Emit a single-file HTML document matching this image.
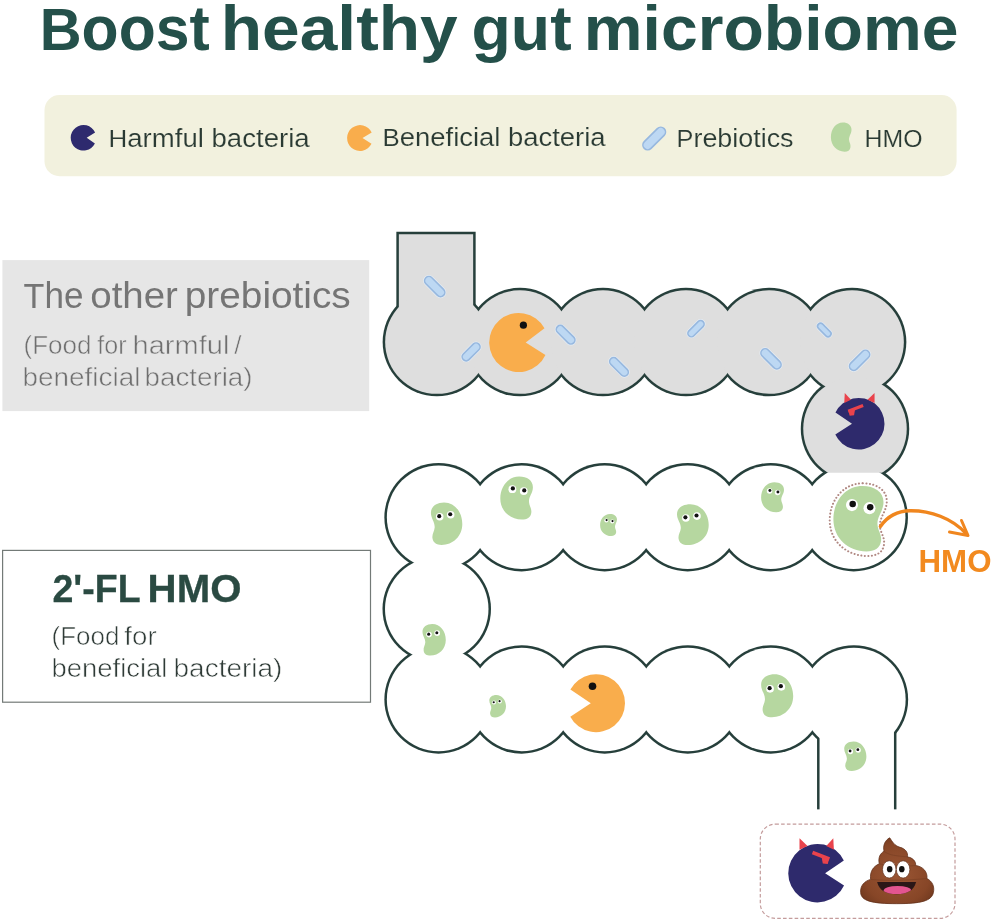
<!DOCTYPE html>
<html><head><meta charset="utf-8">
<style>
html,body{margin:0;padding:0;background:#fff;}
body{width:994px;height:923px;overflow:hidden;}
svg{display:block;will-change:transform;}
text{font-family:"Liberation Sans",sans-serif;}
</style></head><body>
<svg width="994" height="923" viewBox="0 0 994 923">
<rect x="0" y="0" width="994" height="923" fill="#fff"/>
<rect x="44.5" y="95" width="912.1" height="81.2" rx="15" fill="#f2f1de"/>
<rect x="2.4" y="260.1" width="366.8" height="151" fill="#e6e6e6"/>
<rect x="2.6" y="550.4" width="367.9" height="151.8" fill="#fff" stroke="#737a77" stroke-width="1.2"/>
<text x="39.77" y="49.7" font-size="62.6" font-weight="bold" fill="#24504a" textLength="169.83" lengthAdjust="spacingAndGlyphs"><tspan font-size="59.8">B</tspan><tspan font-size="62.6">oost</tspan></text>
<text x="220.80" y="49.7" font-size="62.6" font-weight="bold" fill="#24504a" textLength="236.85" lengthAdjust="spacingAndGlyphs">healthy</text>
<text x="471.56" y="49.7" font-size="62.6" font-weight="bold" fill="#24504a" textLength="100.09" lengthAdjust="spacingAndGlyphs">gut</text>
<text x="583.82" y="49.7" font-size="62.6" font-weight="bold" fill="#24504a" textLength="374.65" lengthAdjust="spacingAndGlyphs">microbiome</text>
<text x="108.50" y="147.0" font-size="24" fill="#2a3a33" stroke="#f2f1de" stroke-width="0.15" textLength="201.12" lengthAdjust="spacingAndGlyphs"><tspan font-size="24">H</tspan><tspan font-size="25.5">armful bacteria</tspan></text>
<text x="382.53" y="146.4" font-size="24" fill="#2a3a33" stroke="#f2f1de" stroke-width="0.15" textLength="223.10" lengthAdjust="spacingAndGlyphs"><tspan font-size="24">B</tspan><tspan font-size="25.5">eneficial bacteria</tspan></text>
<text x="676.56" y="147.0" font-size="24" fill="#2a3a33" stroke="#f2f1de" stroke-width="0.15" textLength="117.01" lengthAdjust="spacingAndGlyphs"><tspan font-size="24">P</tspan><tspan font-size="25.5">rebiotics</tspan></text>
<text x="864.56" y="147.0" font-size="24" fill="#2a3a33" stroke="#f2f1de" stroke-width="0.15" textLength="57.99" lengthAdjust="spacingAndGlyphs">HMO</text>
<text x="23.61" y="307.6" font-size="36.5" fill="#757575" textLength="59.89" lengthAdjust="spacingAndGlyphs"><tspan font-size="35.5">T</tspan><tspan font-size="36.5">he</tspan></text>
<text x="90.29" y="307.6" font-size="36.5" fill="#757575" textLength="87.57" lengthAdjust="spacingAndGlyphs">other</text>
<text x="184.81" y="307.6" font-size="36.5" fill="#757575" textLength="165.95" lengthAdjust="spacingAndGlyphs">prebiotics</text>
<text x="23.48" y="354.3" font-size="25" fill="#6f6f6f" stroke="#e6e6e6" stroke-width="0.5" textLength="68.02" lengthAdjust="spacingAndGlyphs">(Food</text>
<text x="97.37" y="354.3" font-size="25" fill="#6f6f6f" stroke="#e6e6e6" stroke-width="0.5" textLength="29.25" lengthAdjust="spacingAndGlyphs">for</text>
<text x="132.57" y="354.3" font-size="25" fill="#6f6f6f" stroke="#e6e6e6" stroke-width="0.5" textLength="96.84" lengthAdjust="spacingAndGlyphs">harmful</text>
<text x="234.34" y="354.3" font-size="25" fill="#6f6f6f" stroke="#e6e6e6" stroke-width="0.5" textLength="7.25" lengthAdjust="spacingAndGlyphs">/</text>
<text x="22.58" y="385.6" font-size="25" fill="#6f6f6f" stroke="#e6e6e6" stroke-width="0.5" textLength="117.85" lengthAdjust="spacingAndGlyphs">beneficial</text>
<text x="144.57" y="385.6" font-size="25" fill="#6f6f6f" stroke="#e6e6e6" stroke-width="0.5" textLength="107.96" lengthAdjust="spacingAndGlyphs">bacteria)</text>
<text x="52.45" y="602.4" font-size="39.5" font-weight="bold" fill="#2a4a42" stroke="#2a4a42" stroke-width="0.3" textLength="88.19" lengthAdjust="spacingAndGlyphs">2'-FL</text>
<text x="147.60" y="602.4" font-size="39.5" font-weight="bold" fill="#2a4a42" stroke="#2a4a42" stroke-width="0.3" textLength="93.91" lengthAdjust="spacingAndGlyphs">HMO</text>
<text x="51.55" y="645.0" font-size="25" fill="#2f3b37" stroke="#ffffff" stroke-width="0.55" textLength="67.89" lengthAdjust="spacingAndGlyphs">(Food</text>
<text x="124.37" y="645.0" font-size="25" fill="#2f3b37" stroke="#ffffff" stroke-width="0.55" textLength="32.24" lengthAdjust="spacingAndGlyphs">for</text>
<text x="51.55" y="677.0" font-size="25" fill="#2f3b37" stroke="#ffffff" stroke-width="0.55" textLength="115.92" lengthAdjust="spacingAndGlyphs">beneficial</text>
<text x="173.54" y="677.0" font-size="25" fill="#2f3b37" stroke="#ffffff" stroke-width="0.55" textLength="108.90" lengthAdjust="spacingAndGlyphs">bacteria)</text>
<text x="918.53" y="572.0" font-size="31.5" font-weight="bold" fill="#f28a1f" textLength="73.02" lengthAdjust="spacingAndGlyphs">HMO</text>
<rect x="396.35" y="231.75" width="79.30" height="111.60" fill="#263f3b" />
<circle cx="436.90" cy="342.10" r="54.25" fill="#263f3b" />
<circle cx="519.94" cy="342.10" r="54.25" fill="#263f3b" />
<circle cx="602.98" cy="342.10" r="54.25" fill="#263f3b" />
<circle cx="686.02" cy="342.10" r="54.25" fill="#263f3b" />
<circle cx="769.06" cy="342.10" r="54.25" fill="#263f3b" />
<circle cx="852.10" cy="342.10" r="54.25" fill="#263f3b" />
<circle cx="855.00" cy="428.70" r="54.25" fill="#263f3b" />
<circle cx="438.60" cy="517.20" r="54.25" fill="#263f3b" />
<circle cx="521.62" cy="517.20" r="54.25" fill="#263f3b" />
<circle cx="604.64" cy="517.20" r="54.25" fill="#263f3b" />
<circle cx="687.66" cy="517.20" r="54.25" fill="#263f3b" />
<circle cx="770.68" cy="517.20" r="54.25" fill="#263f3b" />
<circle cx="853.70" cy="517.20" r="54.25" fill="#263f3b" />
<circle cx="436.75" cy="609.00" r="54.25" fill="#263f3b" />
<circle cx="438.60" cy="699.40" r="54.25" fill="#263f3b" />
<circle cx="521.66" cy="699.40" r="54.25" fill="#263f3b" />
<circle cx="604.72" cy="699.40" r="54.25" fill="#263f3b" />
<circle cx="687.78" cy="699.40" r="54.25" fill="#263f3b" />
<circle cx="770.84" cy="699.40" r="54.25" fill="#263f3b" />
<circle cx="853.90" cy="699.40" r="54.25" fill="#263f3b" />
<rect x="817.05" y="698.15" width="79.40" height="111.45" fill="#263f3b" />
<circle cx="438.60" cy="517.20" r="51.75" fill="#ffffff" />
<circle cx="521.62" cy="517.20" r="51.75" fill="#ffffff" />
<circle cx="604.64" cy="517.20" r="51.75" fill="#ffffff" />
<circle cx="687.66" cy="517.20" r="51.75" fill="#ffffff" />
<circle cx="770.68" cy="517.20" r="51.75" fill="#ffffff" />
<circle cx="853.70" cy="517.20" r="51.75" fill="#ffffff" />
<circle cx="436.75" cy="609.00" r="51.75" fill="#ffffff" />
<circle cx="438.60" cy="699.40" r="51.75" fill="#ffffff" />
<circle cx="521.66" cy="699.40" r="51.75" fill="#ffffff" />
<circle cx="604.72" cy="699.40" r="51.75" fill="#ffffff" />
<circle cx="687.78" cy="699.40" r="51.75" fill="#ffffff" />
<circle cx="770.84" cy="699.40" r="51.75" fill="#ffffff" />
<circle cx="853.90" cy="699.40" r="51.75" fill="#ffffff" />
<rect x="819.55" y="700.65" width="74.40" height="113.95" fill="#ffffff" />
<clipPath id="gclip"><rect x="0" y="0" width="994" height="472.7"/></clipPath>
<g clip-path="url(#gclip)">
<rect x="398.85" y="234.25" width="74.30" height="106.60" fill="#dedede" />
<circle cx="436.90" cy="342.10" r="51.75" fill="#dedede" />
<circle cx="519.94" cy="342.10" r="51.75" fill="#dedede" />
<circle cx="602.98" cy="342.10" r="51.75" fill="#dedede" />
<circle cx="686.02" cy="342.10" r="51.75" fill="#dedede" />
<circle cx="769.06" cy="342.10" r="51.75" fill="#dedede" />
<circle cx="852.10" cy="342.10" r="51.75" fill="#dedede" />
<circle cx="855.00" cy="428.70" r="51.75" fill="#dedede" />
</g>
<rect x="815.30" y="809.60" width="82.90" height="20.00" fill="#ffffff" />
<path d="M86.70 137.80 L95.10 132.39 A12.80 12.80 0 1 0 94.90 143.61 Z" fill="#2e2a6e"/>
<path d="M362.50 138.00 L371.69 132.55 A12.90 12.90 0 1 0 371.49 143.86 Z" fill="#f9ad4c"/>
<g transform="translate(654.20 138.50) rotate(-45)"><rect x="-14.00" y="-4.75" width="28.00" height="9.50" rx="4.75" fill="#bdd8f3" stroke="#97b8df" stroke-width="1.6"/></g>
<g transform="translate(830.90 122.60) scale(0.2060 0.2238)"><path d="M58 0 C82 0 100 12 100 32 C100 50 87 60 88 77 C89 90 97 96 95 110 C93 124 82 130 66 130 C30 130 0 104 0 66 C0 30 24 0 58 0 Z" fill="#b6d7a0"/></g>
<g transform="translate(434.70 286.60) rotate(45)"><rect x="-14.00" y="-5.75" width="28.00" height="11.50" rx="5.75" fill="#e6edf5" opacity="0.9"/><rect x="-12.50" y="-4.25" width="25.00" height="8.50" rx="4.25" fill="#bdd8f3" stroke="#97b8df" stroke-width="1.6"/></g>
<g transform="translate(471.10 351.90) rotate(-45)"><rect x="-12.50" y="-5.50" width="25.00" height="11.00" rx="5.50" fill="#e6edf5" opacity="0.9"/><rect x="-11.00" y="-4.00" width="22.00" height="8.00" rx="4.00" fill="#bdd8f3" stroke="#97b8df" stroke-width="1.6"/></g>
<g transform="translate(565.60 334.70) rotate(45)"><rect x="-13.00" y="-5.50" width="26.00" height="11.00" rx="5.50" fill="#e6edf5" opacity="0.9"/><rect x="-11.50" y="-4.00" width="23.00" height="8.00" rx="4.00" fill="#bdd8f3" stroke="#97b8df" stroke-width="1.6"/></g>
<g transform="translate(619.00 366.90) rotate(45)"><rect x="-13.00" y="-5.50" width="26.00" height="11.00" rx="5.50" fill="#e6edf5" opacity="0.9"/><rect x="-11.50" y="-4.00" width="23.00" height="8.00" rx="4.00" fill="#bdd8f3" stroke="#97b8df" stroke-width="1.6"/></g>
<g transform="translate(696.00 328.70) rotate(-45)"><rect x="-11.50" y="-5.00" width="23.00" height="10.00" rx="5.00" fill="#e6edf5" opacity="0.9"/><rect x="-10.00" y="-3.50" width="20.00" height="7.00" rx="3.50" fill="#bdd8f3" stroke="#97b8df" stroke-width="1.6"/></g>
<g transform="translate(771.00 358.80) rotate(45)"><rect x="-14.00" y="-5.75" width="28.00" height="11.50" rx="5.75" fill="#e6edf5" opacity="0.9"/><rect x="-12.50" y="-4.25" width="25.00" height="8.50" rx="4.25" fill="#bdd8f3" stroke="#97b8df" stroke-width="1.6"/></g>
<g transform="translate(824.30 330.00) rotate(45)"><rect x="-9.75" y="-4.50" width="19.50" height="9.00" rx="4.50" fill="#e6edf5" opacity="0.9"/><rect x="-8.25" y="-3.00" width="16.50" height="6.00" rx="3.00" fill="#bdd8f3" stroke="#97b8df" stroke-width="1.6"/></g>
<g transform="translate(859.60 360.30) rotate(-45)"><rect x="-14.00" y="-5.75" width="28.00" height="11.50" rx="5.75" fill="#e6edf5" opacity="0.9"/><rect x="-12.50" y="-4.25" width="25.00" height="8.50" rx="4.25" fill="#bdd8f3" stroke="#97b8df" stroke-width="1.6"/></g>
<path d="M525.70 342.50 L544.50 328.20 A29.50 29.50 0 1 0 545.44 354.97 Z" fill="#f9ad4c"/>
<circle cx="523.40" cy="325.20" r="3.60" fill="#111" />
<path d="M590.80 703.20 L570.39 689.59 A29.00 29.00 0 1 1 570.30 716.64 Z" fill="#f9ad4c"/>
<circle cx="592.50" cy="686.20" r="3.80" fill="#111" />
<path d="M851.99 423.70 L835.47 412.47 A25.80 25.80 0 1 1 835.30 434.56 Z" fill="#2e2a6c"/><path d="M874.57 403.06 L874.57 392.92 L867.47 399.71 Z" fill="#e9434c"/><path d="M850.96 399.71 L844.77 392.92 L844.25 403.06 Z" fill="#e9434c"/><path d="M863.11 405.49 L848.20 411.21" stroke="#e9434c" stroke-width="3.10" stroke-linecap="butt"/><path d="M855.09 409.25 L848.38 410.80 L849.67 415.70 L854.06 415.19 Z" fill="#e9434c"/>
<g transform="translate(462.30 502.40) scale(-0.3140 0.3269)"><path d="M58 0 C82 0 100 12 100 32 C100 50 87 60 88 77 C89 90 97 96 95 110 C93 124 82 130 66 130 C30 130 0 104 0 66 C0 30 24 0 58 0 Z" fill="#b6d7a0"/><circle cx="37" cy="38" r="12" fill="#fff" transform="scale(1 0.9605)" transform-origin="37 38"/><circle cx="38.5" cy="36" r="6.5" fill="#111" transform="scale(1 0.9605)" transform-origin="37 38"/><circle cx="72" cy="44" r="12" fill="#fff" transform="scale(1 0.9605)" transform-origin="72 44"/><circle cx="73.5" cy="42" r="6.5" fill="#111" transform="scale(1 0.9605)" transform-origin="72 44"/></g>
<g transform="translate(500.30 476.60) scale(0.3260 0.3300)"><path d="M58 0 C82 0 100 12 100 32 C100 50 87 60 88 77 C89 90 97 96 95 110 C93 124 82 130 66 130 C30 130 0 104 0 66 C0 30 24 0 58 0 Z" fill="#b6d7a0"/><circle cx="37" cy="38" r="12" fill="#fff" transform="scale(1 0.9879)" transform-origin="37 38"/><circle cx="38.5" cy="36" r="6.5" fill="#111" transform="scale(1 0.9879)" transform-origin="37 38"/><circle cx="72" cy="44" r="12" fill="#fff" transform="scale(1 0.9879)" transform-origin="72 44"/><circle cx="73.5" cy="42" r="6.5" fill="#111" transform="scale(1 0.9879)" transform-origin="72 44"/></g>
<g transform="translate(600.10 514.00) scale(0.1690 0.1692)"><path d="M58 0 C82 0 100 12 100 32 C100 50 87 60 88 77 C89 90 97 96 95 110 C93 124 82 130 66 130 C30 130 0 104 0 66 C0 30 24 0 58 0 Z" fill="#b6d7a0"/><circle cx="37" cy="38" r="12" fill="#fff" transform="scale(1 0.9986)" transform-origin="37 38"/><circle cx="38.5" cy="36" r="6.5" fill="#111" transform="scale(1 0.9986)" transform-origin="37 38"/><circle cx="72" cy="44" r="12" fill="#fff" transform="scale(1 0.9986)" transform-origin="72 44"/><circle cx="73.5" cy="42" r="6.5" fill="#111" transform="scale(1 0.9986)" transform-origin="72 44"/></g>
<g transform="translate(708.70 504.20) scale(-0.3170 0.3138)"><path d="M58 0 C82 0 100 12 100 32 C100 50 87 60 88 77 C89 90 97 96 95 110 C93 124 82 130 66 130 C30 130 0 104 0 66 C0 30 24 0 58 0 Z" fill="#b6d7a0"/><circle cx="37" cy="38" r="12" fill="#fff" transform="scale(1 1.0100)" transform-origin="37 38"/><circle cx="38.5" cy="36" r="6.5" fill="#111" transform="scale(1 1.0100)" transform-origin="37 38"/><circle cx="72" cy="44" r="12" fill="#fff" transform="scale(1 1.0100)" transform-origin="72 44"/><circle cx="73.5" cy="42" r="6.5" fill="#111" transform="scale(1 1.0100)" transform-origin="72 44"/></g>
<g transform="translate(761.10 482.30) scale(0.2290 0.2308)"><path d="M58 0 C82 0 100 12 100 32 C100 50 87 60 88 77 C89 90 97 96 95 110 C93 124 82 130 66 130 C30 130 0 104 0 66 C0 30 24 0 58 0 Z" fill="#b6d7a0"/><circle cx="37" cy="38" r="12" fill="#fff" transform="scale(1 0.9923)" transform-origin="37 38"/><circle cx="38.5" cy="36" r="6.5" fill="#111" transform="scale(1 0.9923)" transform-origin="37 38"/><circle cx="72" cy="44" r="12" fill="#fff" transform="scale(1 0.9923)" transform-origin="72 44"/><circle cx="73.5" cy="42" r="6.5" fill="#111" transform="scale(1 0.9923)" transform-origin="72 44"/></g>
<g transform="translate(445.80 623.90) scale(-0.2330 0.2431)"><path d="M58 0 C82 0 100 12 100 32 C100 50 87 60 88 77 C89 90 97 96 95 110 C93 124 82 130 66 130 C30 130 0 104 0 66 C0 30 24 0 58 0 Z" fill="#b6d7a0"/><circle cx="37" cy="38" r="12" fill="#fff" transform="scale(1 0.9585)" transform-origin="37 38"/><circle cx="38.5" cy="36" r="6.5" fill="#111" transform="scale(1 0.9585)" transform-origin="37 38"/><circle cx="72" cy="44" r="12" fill="#fff" transform="scale(1 0.9585)" transform-origin="72 44"/><circle cx="73.5" cy="42" r="6.5" fill="#111" transform="scale(1 0.9585)" transform-origin="72 44"/></g>
<g transform="translate(506.00 694.90) scale(-0.1670 0.1738)"><path d="M58 0 C82 0 100 12 100 32 C100 50 87 60 88 77 C89 90 97 96 95 110 C93 124 82 130 66 130 C30 130 0 104 0 66 C0 30 24 0 58 0 Z" fill="#b6d7a0"/><circle cx="37" cy="38" r="12" fill="#fff" transform="scale(1 0.9606)" transform-origin="37 38"/><circle cx="38.5" cy="36" r="6.5" fill="#111" transform="scale(1 0.9606)" transform-origin="37 38"/><circle cx="72" cy="44" r="12" fill="#fff" transform="scale(1 0.9606)" transform-origin="72 44"/><circle cx="73.5" cy="42" r="6.5" fill="#111" transform="scale(1 0.9606)" transform-origin="72 44"/></g>
<g transform="translate(793.20 674.20) scale(-0.3210 0.3315)"><path d="M58 0 C82 0 100 12 100 32 C100 50 87 60 88 77 C89 90 97 96 95 110 C93 124 82 130 66 130 C30 130 0 104 0 66 C0 30 24 0 58 0 Z" fill="#b6d7a0"/><circle cx="37" cy="38" r="12" fill="#fff" transform="scale(1 0.9682)" transform-origin="37 38"/><circle cx="38.5" cy="36" r="6.5" fill="#111" transform="scale(1 0.9682)" transform-origin="37 38"/><circle cx="72" cy="44" r="12" fill="#fff" transform="scale(1 0.9682)" transform-origin="72 44"/><circle cx="73.5" cy="42" r="6.5" fill="#111" transform="scale(1 0.9682)" transform-origin="72 44"/></g>
<g transform="translate(866.40 741.50) scale(-0.2220 0.2269)"><path d="M58 0 C82 0 100 12 100 32 C100 50 87 60 88 77 C89 90 97 96 95 110 C93 124 82 130 66 130 C30 130 0 104 0 66 C0 30 24 0 58 0 Z" fill="#b6d7a0"/><circle cx="37" cy="38" r="12" fill="#fff" transform="scale(1 0.9783)" transform-origin="37 38"/><circle cx="38.5" cy="36" r="6.5" fill="#111" transform="scale(1 0.9783)" transform-origin="37 38"/><circle cx="72" cy="44" r="12" fill="#fff" transform="scale(1 0.9783)" transform-origin="72 44"/><circle cx="73.5" cy="42" r="6.5" fill="#111" transform="scale(1 0.9783)" transform-origin="72 44"/></g>
<g transform="translate(829.7 483.3) scale(0.5710 0.5592)"><path d="M58 0 C82 0 100 12 100 32 C100 50 87 60 88 77 C89 90 97 96 95 110 C93 124 82 130 66 130 C30 130 0 104 0 66 C0 30 24 0 58 0 Z" fill="none" stroke="#b08882" stroke-width="3.6" stroke-dasharray="0.1 6.0" stroke-linecap="round" transform="scale(1 1)"/></g>
<g transform="translate(833.40 486.00) scale(0.5010 0.5031)"><path d="M58 0 C82 0 100 12 100 32 C100 50 87 60 88 77 C89 90 97 96 95 110 C93 124 82 130 66 130 C30 130 0 104 0 66 C0 30 24 0 58 0 Z" fill="#b6d7a0"/><circle cx="37" cy="38" r="12" fill="#fff" transform="scale(1 0.9959)" transform-origin="37 38"/><circle cx="38.5" cy="36" r="6.5" fill="#111" transform="scale(1 0.9959)" transform-origin="37 38"/><circle cx="72" cy="44" r="12" fill="#fff" transform="scale(1 0.9959)" transform-origin="72 44"/><circle cx="73.5" cy="42" r="6.5" fill="#111" transform="scale(1 0.9959)" transform-origin="72 44"/></g>
<path d="M880.4 526.5 C 887 517, 897 511, 910 510.8 C 930 510.5, 952 518, 966.5 534" fill="none" stroke="#f0861e" stroke-width="3.4" stroke-linecap="round"/>
<path d="M949.5 532 L968 535.5 L961.5 520.5" fill="none" stroke="#f0861e" stroke-width="3" stroke-linecap="round" stroke-linejoin="round"/>
<rect x="760.3" y="824.1" width="194.7" height="94.3" rx="15" fill="none" stroke="#c49c9c" stroke-width="1.2" stroke-dasharray="3.6 2.2"/>
<path d="M825.11 873.15 L843.83 860.42 A29.25 29.25 0 1 0 844.03 885.47 Z" fill="#2e2a6c"/><path d="M799.51 849.75 L799.51 838.25 L807.55 845.95 Z" fill="#e9434c"/><path d="M826.27 845.95 L833.29 838.25 L833.88 849.75 Z" fill="#e9434c"/><path d="M812.50 852.50 L829.40 858.99" stroke="#e9434c" stroke-width="3.51" stroke-linecap="butt"/><path d="M821.60 856.77 L829.20 858.52 L827.74 864.08 L822.76 863.50 Z" fill="#e9434c"/>
<defs><radialGradient id="pg" cx="0.5" cy="0.55" r="0.6"><stop offset="0" stop-color="#9b5634"/><stop offset="0.75" stop-color="#874627"/><stop offset="1" stop-color="#723a1f"/></radialGradient>
<clipPath id="mclip"><path d="M255 600 L705 600 C680 700 600 740 480 740 C360 740 280 700 255 600 Z"/></clipPath></defs>
<g transform="translate(855 830) scale(0.08666)">
<path d="M400 90 C430 130 450 180 520 200 C580 215 615 260 605 310 C665 320 705 360 700 410 C780 420 840 480 830 560 C890 590 920 650 905 720 C885 820 760 850 480 850 C200 850 70 820 65 720 C60 640 110 590 180 570 C170 480 210 420 280 390 C265 320 290 270 335 245 C320 180 345 120 400 90 Z" fill="url(#pg)" stroke="#62301a" stroke-width="9"/>
<path d="M335 245 C400 300 520 300 605 310 M280 390 C400 420 600 420 700 410 M180 570 C300 580 500 590 830 560" fill="none" stroke="#6e371e" stroke-width="10" opacity="0.5"/>
<ellipse cx="395" cy="455" rx="78" ry="100" fill="#fff" stroke="#5e2f1a" stroke-width="8"/>
<ellipse cx="555" cy="455" rx="78" ry="100" fill="#fff" stroke="#5e2f1a" stroke-width="8"/>
<ellipse cx="400" cy="452" rx="32" ry="36" fill="#111"/>
<ellipse cx="540" cy="452" rx="32" ry="36" fill="#111"/>
<path d="M255 600 L705 600 C680 700 600 740 480 740 C360 740 280 700 255 600 Z" fill="#2a1717"/>
<g clip-path="url(#mclip)"><ellipse cx="490" cy="700" rx="160" ry="55" fill="#e35590"/></g>
</g>
</svg>
</body></html>
